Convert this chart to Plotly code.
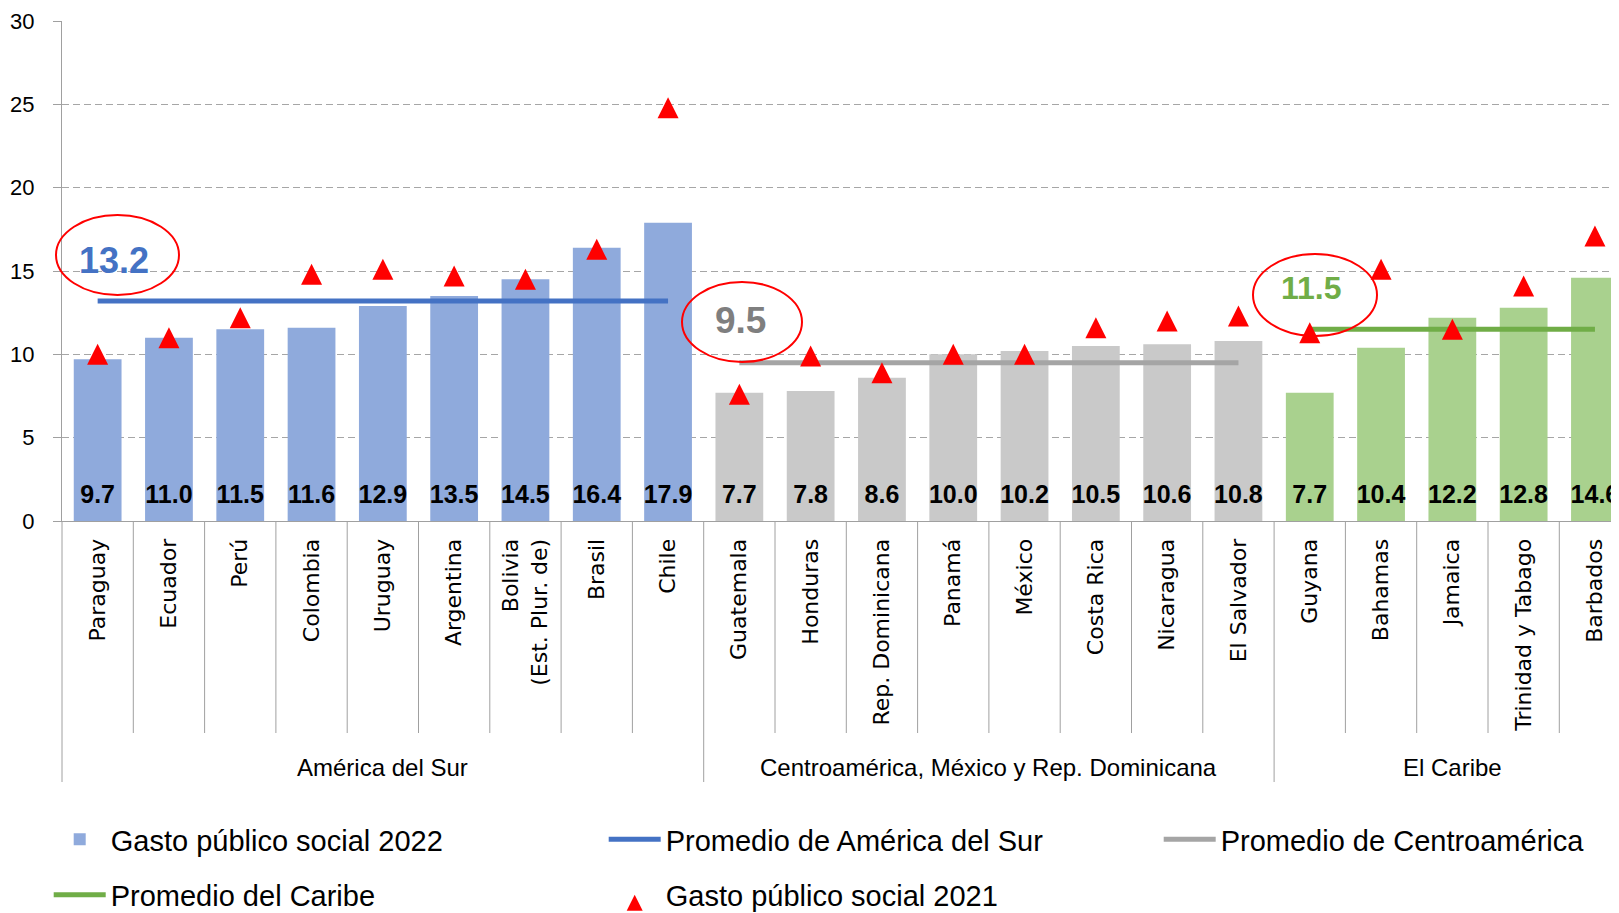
import plotly.graph_objects as go

# ---------------- data ----------------
countries = ["Paraguay", "Ecuador", "Perú", "Colombia", "Uruguay", "Argentina",
             "Bolivia (Est. Plur. de)", "Brasil", "Chile",
             "Guatemala", "Honduras", "Rep. Dominicana", "Panamá", "México",
             "Costa Rica", "Nicaragua", "El Salvador",
             "Guyana", "Bahamas", "Jamaica", "Trinidad y Tabago", "Barbados"]
tick_labels = ["Paraguay", "Ecuador", "Perú", "Colombia", "Uruguay", "Argentina",
               "Bolivia<br>(Est. Plur. de)", "Brasil", "Chile",
               "Guatemala", "Honduras", "Rep. Dominicana", "Panamá", "México",
               "Costa Rica", "Nicaragua", "El Salvador",
               "Guyana", "Bahamas", "Jamaica", "Trinidad y Tabago", "Barbados"]
region_of = (["América del Sur"] * 9
             + ["Centroamérica, México y Rep. Dominicana"] * 8
             + ["El Caribe"] * 5)
gasto_2022 = [9.7, 11.0, 11.5, 11.6, 12.9, 13.5, 14.5, 16.4, 17.9,
              7.7, 7.8, 8.6, 10.0, 10.2, 10.5, 10.6, 10.8,
              7.7, 10.4, 12.2, 12.8, 14.6]
gasto_2021 = [10.0, 11.0, 12.2, 14.8, 15.1, 14.7, 14.5, 16.3, 24.8,
              7.6, 9.9, 8.9, 10.0, 10.0, 11.6, 12.0, 12.3,
              11.3, 15.1, 11.5, 14.1, 17.1]
region_names = ["América del Sur", "Centroamérica, México y Rep. Dominicana", "El Caribe"]
region_avg = [13.2, 9.5, 11.5]
avg_names = ["Promedio de América del Sur", "Promedio de Centroamérica", "Promedio del Caribe"]
y_ticks = [0, 5, 10, 15, 20, 25, 30]

# ---------------- styles ----------------
bar_colors = {"América del Sur": "#8FAADC",
              "Centroamérica, México y Rep. Dominicana": "#C9C9C9",
              "El Caribe": "#A9D18E"}
line_colors = ["#4472C4", "#A5A5A5", "#70AD47"]
avg_text_colors = ["#4472C4", "#7F7F7F", "#70AD47"]
FONT = "Liberation Sans, Arial, sans-serif"
CFONT = "DejaVu Sans, Verdana, sans-serif"
AXIS_GRAY = "#A0A0A0"

OFF = 8                      # page body margin in the browser
W, H = 1619 - OFF, 913 - OFF
ML, MR, MT, MB = 54, 0, 13, 392
PW, PH = W - ML - MR, H - MT - MB
CAT_PX = 71.3
XMIN = -0.5
XMAX = XMIN + PW / CAT_PX
YMAX = 30
PX_PER_UNIT = PH / YMAX


def xp(px):
    """screen x pixel -> paper x"""
    return (px - OFF - ML) / PW


def yp(py):
    """screen y pixel -> paper y"""
    return (H - MB - (py - OFF)) / PH


def cat_paper(c):
    return (c - XMIN) / (XMAX - XMIN)


fig = go.Figure()

LW = 488  # legend entry width

# bars 2022
fig.add_trace(go.Bar(
    x=countries, y=gasto_2022, name="Gasto público social 2022",
    marker=dict(color=[bar_colors[r] for r in region_of], line=dict(width=0)),
    legend="legend", legendwidth=LW, hoverinfo="skip",
))

# regional averages
for k, rname in enumerate(region_names):
    idx = [i for i, r in enumerate(region_of) if r == rname]
    fig.add_trace(go.Scatter(
        x=[countries[idx[0]], countries[idx[-1]]],
        y=[region_avg[k], region_avg[k]],
        mode="lines", name=avg_names[k],
        line=dict(color=line_colors[k], width=5),
        legend="legend" if k < 2 else "legend2",
        legendwidth=LW if k != 1 else 380,
        hoverinfo="skip",
    ))

# 2021 triangles (arrow-up symbol has its tip at the point; the overlay axis
# shifts it so the triangle is centred on the value)
MS = 21
shift = (MS / 2) / PX_PER_UNIT
fig.add_trace(go.Scatter(
    x=countries, y=gasto_2021, mode="markers", name="Gasto público social 2021",
    marker=dict(symbol="arrow-up", size=MS, color="#FF0000", line=dict(width=0)),
    yaxis="y2", legend="legend2", legendwidth=380, hoverinfo="skip",
))

# value labels at the base of the bars
fig.add_trace(go.Scatter(
    x=countries, y=[1.45] * len(countries), mode="text",
    text=[f"{v:.1f}" for v in gasto_2022],
    textposition="middle center",
    textfont=dict(family=FONT, size=25, color="black", weight="bold"),
    showlegend=False, hoverinfo="skip",
))

shapes = []
# separators under the category axis
for i in range(len(countries) - 1):
    c = i + 0.5
    long = region_of[i] != region_of[i + 1]
    y_end = 782 if long else 733
    shapes.append(dict(type="line", xref="paper", yref="paper",
                       x0=cat_paper(c), x1=cat_paper(c), y0=0, y1=yp(y_end),
                       line=dict(color=AXIS_GRAY, width=1)))
# y-axis extension downward
shapes.append(dict(type="line", xref="paper", yref="paper",
                   x0=0, x1=0, y0=0, y1=yp(782),
                   line=dict(color=AXIS_GRAY, width=1)))

# red ellipses (screen pixels)
ellipses = [(56, 215, 179, 295), (682, 282, 802, 362), (1253, 254, 1377, 336)]
for (x0, y0, x1, y1) in ellipses:
    shapes.append(dict(type="circle", xref="paper", yref="paper",
                       x0=xp(x0), x1=xp(x1), y0=yp(y1), y1=yp(y0),
                       line=dict(color="#FF0000", width=2), fillcolor="rgba(0,0,0,0)"))

annotations = []
# averages text
avg_pos = [(114, 260, 36), (740, 320, 37), (1311, 288, 32)]
for k, (px, py, fs) in enumerate(avg_pos):
    annotations.append(dict(xref="paper", yref="paper", x=xp(px), y=yp(py),
                            text=f"<b>{region_avg[k]:.1f}</b>", showarrow=False,
                            xanchor="center", yanchor="middle",
                            font=dict(family=FONT, size=fs, color=avg_text_colors[k])))
# region group labels
for rname in region_names:
    idx = [i for i, r in enumerate(region_of) if r == rname]
    annotations.append(dict(xref="x", yref="paper", x=(idx[0] + idx[-1]) / 2, y=yp(767),
                            text=rname, showarrow=False, xanchor="center", yanchor="middle",
                            font=dict(family=FONT, size=24, color="black")))

legend_common = dict(orientation="h", x=xp(48.7), xanchor="left", yanchor="middle",
                     itemwidth=52, entrywidthmode="pixels", bgcolor="rgba(0,0,0,0)",
                     font=dict(family=FONT, size=29, color="black"), traceorder="normal")

fig.update_layout(
    width=W, height=H,
    margin=dict(l=ML, r=MR, t=MT, b=MB, autoexpand=False),
    paper_bgcolor="white", plot_bgcolor="white",
    bargap=0.33, hovermode=False,
    shapes=shapes, annotations=annotations,
    xaxis=dict(type="category", categoryorder="array", categoryarray=countries,
               range=[XMIN, XMAX], showline=True, linecolor=AXIS_GRAY, linewidth=1,
               ticks="", tickangle=-90, tickvals=countries, ticktext=tick_labels,
               tickfont=dict(family=CFONT, size=22, color="black"),
               ticklabelstandoff=8, showgrid=False, zeroline=False, fixedrange=True),
    yaxis=dict(range=[0, YMAX], tickvals=y_ticks, showline=True, linecolor=AXIS_GRAY,
               linewidth=1, ticks="outside", ticklen=8, tickcolor=AXIS_GRAY,
               tickfont=dict(family=FONT, size=22, color="black"), ticklabelstandoff=14,
               showgrid=True, gridcolor="#A6A6A6", griddash="7px,4px", gridwidth=1,
               zeroline=False, fixedrange=True),
    yaxis2=dict(overlaying="y", range=[-shift, YMAX - shift], visible=False,
                showgrid=False, zeroline=False, fixedrange=True),
    legend=dict(y=yp(839.5), **legend_common),
    legend2=dict(y=yp(895), **legend_common),
    showlegend=True,
)

fig.write_html("out.html")
